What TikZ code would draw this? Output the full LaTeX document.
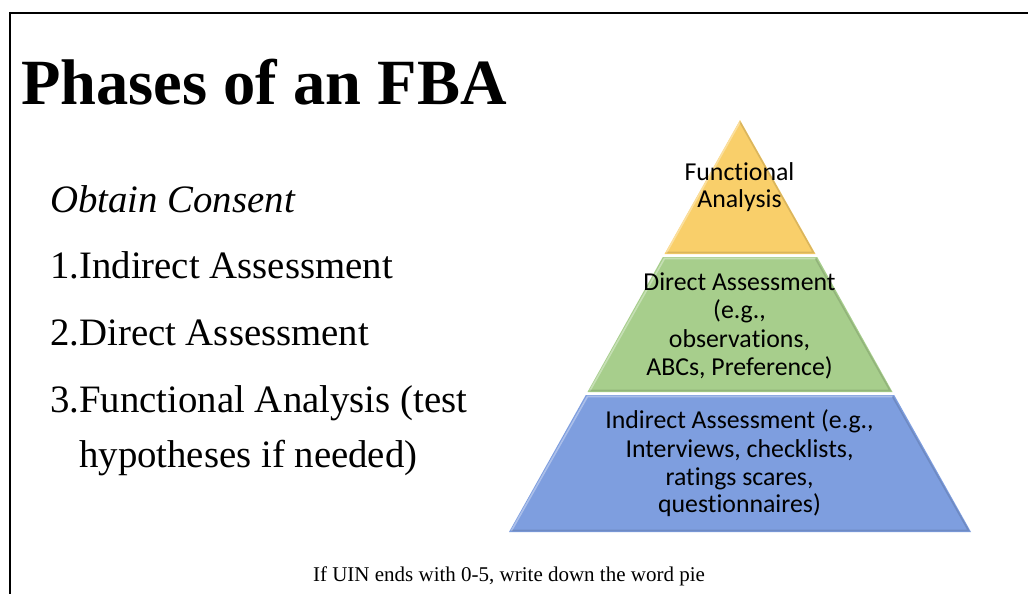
\documentclass[tikz,border=0pt]{standalone}
\usepackage{fontspec}
\setmainfont{Liberation Serif}
\newfontfamily\tierfont[Ligatures=NoCommon]{Carlito}
\definecolor{tierTop}{HTML}{F9CF6A}
\definecolor{tierMid}{HTML}{A7CE8C}
\definecolor{tierBase}{HTML}{7E9EDF}
% keep t and i apart (no ligature)
\newcommand{\nolig}{\kern0pt\relax}
\begin{document}
\begin{tikzpicture}[x=1pt,y=-1pt,
  heading/.style={anchor=base west, inner sep=0pt, font=\bfseries\fontsize{64.5}{70}\selectfont},
  item/.style={anchor=base west, inner sep=0pt, font=\fontsize{38.8}{44}\selectfont},
  tiertext/.style={anchor=base, inner sep=0pt, font=\tierfont\fontsize{25.8}{28}\selectfont},
  note/.style={anchor=base, inner sep=0pt, font=\fontsize{21}{24}\selectfont},
  rule/.style={line width=2pt, black},
  lit/.style={line width=1.6pt, white, opacity=0.35},
  shade/.style={line width=1.6pt, black, opacity=0.12}]
\useasboundingbox (0,0) rectangle (1028,594);
\fill[white] (0,0) rectangle (1028,594);

% slide frame: top and left rules
\draw[rule] (9,13) -- (1028,13);
\draw[rule] (10,12) -- (10,594);

% title
\node[heading] (title) at (21,104) {Phases of an FBA};

% list of phases
\node[item, font=\itshape\fontsize{38.8}{44}\selectfont] (consent) at (50,212) {Obtain Consent};
\node[item] (p1) at (50,278) {1.Indirect Assessment};
\node[item] (p2) at (50,345) {2.Direct Assessment};
\node[item] (p3) at (50,412) {3.Functional Analysis (test};
\node[item] (p3b) at (79,467) {hypotheses if needed)};

% pyramid tiers (apex 740,120; base 509..971 at y=532)
\fill[tierTop] (740,120) -- (815.5,254) -- (664.5,254) -- cycle;
\draw[lit] (740,122) -- (666.5,252.5);
\draw[shade] (740,122) -- (813.5,252.5) -- (666.5,252.5);

\fill[tierMid] (662.8,257) -- (817.2,257) -- (892.5,392) -- (587.5,392) -- cycle;
\draw[lit] (590,390.5) -- (664.5,258.5) -- (815.5,258.5);
\draw[shade] (815.5,258.5) -- (890,390.5) -- (590,390.5);

\fill[tierBase] (585.8,395) -- (894.2,395) -- (971,532) -- (509,532) -- cycle;
\draw[lit] (511.5,530.5) -- (587.5,396.5) -- (892.5,396.5);
\draw[shade] (892.5,396.5) -- (968.5,530.5) -- (511.5,530.5);

% tier labels
\node[tiertext] (fa1) at (739.5,180) {Func\nolig tional};
\node[tiertext] (fa2) at (739.5,207) {Analysis};

\node[tiertext] (da1) at (739.5,290) {Direct Assessment};
\node[tiertext] (da2) at (739.5,318) {(e.g.,};
\node[tiertext] (da3) at (739.5,347) {observa\nolig tions,};
\node[tiertext] (da4) at (739.5,375) {ABCs, Preference)};

\node[tiertext] (ia1) at (739.5,428) {Indirect Assessment (e.g.,};
\node[tiertext] (ia2) at (739.5,457) {Interviews, checklists,};
\node[tiertext] (ia3) at (739.5,485) {ratings scares,};
\node[tiertext] (ia4) at (739.5,512) {questionnaires)};

% footer note
\node[note] (uin) at (509,581) {If UIN ends with 0-5, write down the word pie};
\end{tikzpicture}
\end{document}
